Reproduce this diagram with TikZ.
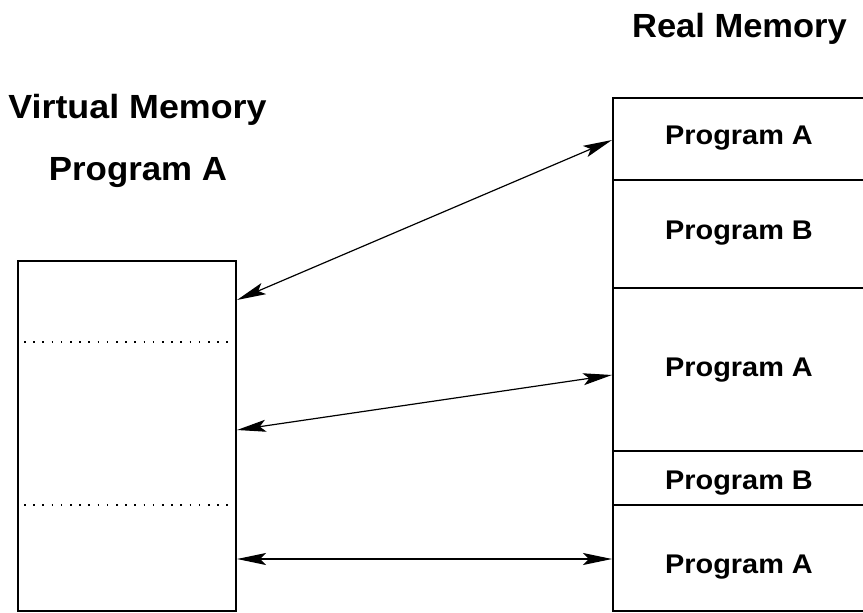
\documentclass[tikz,border=0pt]{standalone}
\usepackage{graphicx}
\usepackage{fontspec}
\setmainfont{Liberation Sans}
\usetikzlibrary{arrows.meta}
\begin{document}
\begin{tikzpicture}[x=1pt,y=-1pt,
  box/.style={line width=2pt},
  dots/.style={line width=1.6pt, dash pattern=on 1.6pt off 7.6pt},
  link/.style={line width=1.2pt, {Stealth[length=29pt,width=12pt,inset=6pt]}-{Stealth[length=29pt,width=12pt,inset=6pt]}},
  big/.style={font=\fontsize{33.5}{36}\selectfont\bfseries, anchor=base, inner sep=0pt},
  small/.style={font=\fontsize{27}{30}\selectfont\bfseries, anchor=base, inner sep=0pt}]
\useasboundingbox (0,0) rectangle (863,613);
\clip (0,0) rectangle (863,613);
% titles
\node[big] (rtitle) at (739.5,37.5) {\scalebox{1.03}[1]{Real Memory}};
\node[big] (vtitle) at (137.5,118.3) {\scalebox{1.07}[1]{Virtual Memory}};
\node[big] (vprog) at (138,180) {\scalebox{1.04}[1]{Program A}};
% left (virtual) box
\draw[box] (18,261) rectangle (236,611);
\draw[dots] (24,342) -- (234,342);
\draw[dots] (24,505) -- (234,505);
% right (real) box
\draw[box] (880,98) -- (613,98) -- (613,611) -- (880,611);
\draw[box] (613,180) -- (880,180);
\draw[box] (613,288) -- (880,288);
\draw[box] (613,451) -- (880,451);
\draw[box] (613,505) -- (880,505);
% cell labels
\node[small] (r1) at (739,144) {\scalebox{1.07}[1]{Program A}};
\node[small] (r2) at (739,239.5) {\scalebox{1.07}[1]{Program B}};
\node[small] (r3) at (739,376) {\scalebox{1.07}[1]{Program A}};
\node[small] (r4) at (739,489.5) {\scalebox{1.07}[1]{Program B}};
\node[small] (r5) at (739,573.5) {\scalebox{1.07}[1]{Program A}};
% connector end points
\coordinate (v1) at (237,300);
\coordinate (v2) at (237,430);
\coordinate (v3) at (237,559);
\coordinate (m1) at (612,140);
\coordinate (m2) at (612,375);
\coordinate (m3) at (612,559);
\draw[link] (v1) -- (m1);
\draw[link] (v2) -- (m2);
\draw[link] (v3) -- (m3);
\end{tikzpicture}
\end{document}
